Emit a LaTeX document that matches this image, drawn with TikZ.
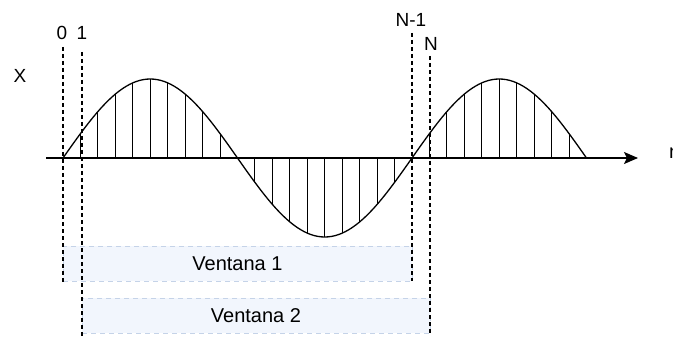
\documentclass[tikz,border=0pt]{standalone}
\usepackage{xcolor}
\usepackage{fontspec}
\setmainfont{Liberation Sans}
\usepackage{tikz}
\usetikzlibrary{positioning, arrows.meta}
\definecolor{winfill}{HTML}{F2F6FD}
\definecolor{winborder}{HTML}{C5D3E8}

\tikzset{
  lbl/.style={anchor=base, inner sep=0pt, font=\fontsize{19}{22}\selectfont},
  guide/.style={draw=black, line width=1.3pt, dash pattern=on 4pt off 3pt},
  stem/.style={draw=black, line width=1pt},
  winbox/.style={fill=winfill, draw=winborder, line width=1pt,
    dash pattern=on 5pt off 4pt, minimum height=35pt,
    font=\fontsize{20}{24}\selectfont},
}

\begin{document}
\begin{tikzpicture}[x=1pt, y=-1pt]
    \clip (0,0) rectangle (673,337);
    \fill[white] (0,0) rectangle (673,337);

    % windows
    \node[winbox, minimum width=349pt] (win1) at (237.5,263.5) {Ventana 1};
    \node[winbox, minimum width=348pt] (win2) at (256,315.5) {Ventana 2};

    % samples
    \foreach \h in {0,1,2}
      \foreach \j in {1,...,9}{
        \pgfmathsetmacro{\k}{10*\h+\j}
        \draw[stem] ({63+17.45*\k},158) -- ({63+17.45*\k},{158-79*sin(18*\k)});
      }

    % signal
    \draw[line width=1.3pt, domain=0:30, samples=151, smooth]
      plot ({63+17.45*\x}, {158-79*sin(18*\x)});

    % axis
    \coordinate (ax0) at (46,158);
    \coordinate (ax1) at (638,158);
    \draw[line width=1.5pt, -{Stealth[length=14pt, width=12pt, inset=3pt]}] (ax0) -- (ax1);
    \node[anchor=base west, inner sep=0pt, font=\fontsize{20}{24}\selectfont] (nlab) at (669,158) {n};
    \node[lbl] (xlab) at (20,83) {X};

    % index labels and guides
    \node[lbl] (lab0) at (62,40) {0};
    \node[lbl] (lab1) at (82,40) {1};
    \node[lbl] (labN1) at (411,27) {N-1};
    \node[lbl] (labN) at (431,51) {N};
    \coordinate (bot0) at (63,283);
    \coordinate (bot1) at (82,337);
    \coordinate (botN1) at (412,281);
    \coordinate (botN) at (430,333);
    \draw[guide] (63,47) -- (bot0);
    \draw[guide] (82,52) -- (bot1);
    \draw[guide] (412,33) -- (botN1);
    \draw[guide] (430,56) -- (botN);
  \end{tikzpicture}
\end{document}
